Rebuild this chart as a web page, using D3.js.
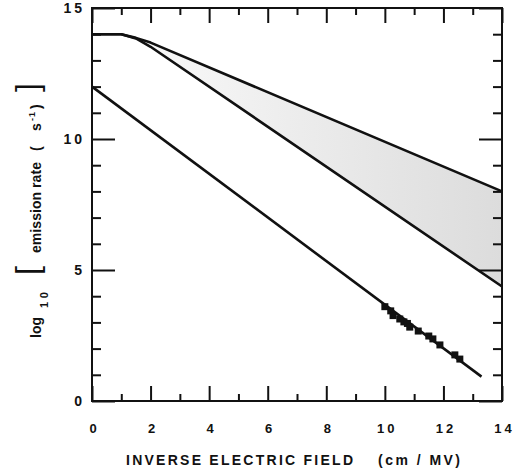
<!DOCTYPE html>
<html>
<head>
<meta charset="utf-8">
<script src="https://cdn.jsdelivr.net/npm/d3@7"></script>
<style>
  body { margin: 0; background: #fff; }
  svg text { font-family: "Liberation Sans", Arial, sans-serif; fill: #111; }
</style>
</head>
<body>
<svg id="chart" width="521" height="473"></svg>
<script>
// inverse field (cm/MV) for the two bounding curves of the shaded band
var bandX = [0, 1, 1.5, 2, 14];
var bandUpper = [14, 14, 13.86, 13.68, 8.0];
var bandLower = [14, 14, 13.84, 13.52, 4.37];

// lower straight line
var fitX = [0, 13.3];
var fitY = [12, 0.93];

// measured points
var ptsX = [10.0, 10.2, 10.28, 10.51, 10.65, 10.77, 10.85, 11.14, 11.5, 11.64, 11.88, 12.39, 12.56];
var ptsY = [3.6, 3.44, 3.26, 3.13, 3.02, 2.96, 2.82, 2.67, 2.48, 2.37, 2.14, 1.76, 1.6];

var xTicks = d3.range(0, 15);
var yTicks = d3.range(0, 16);

var svg = d3.select("#chart");
var x = d3.scaleLinear().domain([0, 14]).range([92, 502]);
var y = d3.scaleLinear().domain([0, 15]).range([401, 8]);

// gradient for the stippled band
var grad = svg.append("defs").append("linearGradient")
    .attr("id", "bandFill")
    .attr("gradientUnits", "userSpaceOnUse")
    .attr("x1", x(2)).attr("x2", x(14)).attr("y1", 0).attr("y2", 0);
grad.append("stop").attr("offset", "0").attr("stop-color", "#f8f8f8");
grad.append("stop").attr("offset", "1").attr("stop-color", "#dcdcdc");

var band = bandX.map(function(d, i) { return { x: d, hi: bandUpper[i], lo: bandLower[i] }; });

svg.append("path")
    .datum(band)
    .attr("fill", "url(#bandFill)")
    .attr("d", d3.area()
        .x(function(d) { return x(d.x); })
        .y0(function(d) { return y(d.lo); })
        .y1(function(d) { return y(d.hi); }));

var line = d3.line()
    .x(function(d) { return x(d[0]); })
    .y(function(d) { return y(d[1]); });

function drawLine(xs, ys) {
  svg.append("path")
      .datum(xs.map(function(d, i) { return [d, ys[i]]; }))
      .attr("fill", "none")
      .attr("stroke", "#111")
      .attr("stroke-width", 2.6)
      .attr("stroke-linejoin", "round")
      .attr("d", line);
}
drawLine(bandX, bandUpper);
drawLine(bandX, bandLower);
drawLine(fitX, fitY);

svg.selectAll("rect.pt")
    .data(ptsX.map(function(d, i) { return [d, ptsY[i]]; }))
    .enter()
    .append("rect")
    .attr("class", "pt")
    .attr("x", function(d) { return x(d[0]) - 3.5; })
    .attr("y", function(d) { return y(d[1]) - 3.5; })
    .attr("width", 7)
    .attr("height", 7)
    .attr("fill", "#111");

// axes: ticks point inward on all four sides
function styleAxis(g, isMajor, majorLen, horiz) {
  g.select(".domain").remove();
  g.selectAll(".tick line")
      .attr("stroke", "#111")
      .attr("stroke-width", 2)
      .each(function(d) {
        if (isMajor(d)) d3.select(this).attr(horiz ? "y2" : "x2", majorLen);
      });
  g.selectAll(".tick text")
      .attr("font-size", 13)
      .attr("font-weight", "bold")
      .attr("letter-spacing", "3px");
}
var evenX = function(d) { return d % 2 === 0; };
var fiveY = function(d) { return d % 5 === 0; };

svg.append("g")
    .attr("transform", "translate(0," + y(0) + ")")
    .call(d3.axisBottom(x).tickValues(xTicks).tickSizeInner(-7).tickSizeOuter(0).tickPadding(23)
        .tickFormat(function(d) { return d % 2 ? "" : d; }))
    .call(styleAxis, evenX, -15, true)
    .selectAll(".tick text").attr("dx", "2px");

svg.append("g")
    .attr("transform", "translate(0," + y(15) + ")")
    .call(d3.axisTop(x).tickValues(xTicks).tickSizeInner(-7).tickSizeOuter(0).tickFormat(""))
    .call(styleAxis, evenX, 15, true);

svg.append("g")
    .attr("transform", "translate(" + x(0) + ",0)")
    .call(d3.axisLeft(y).tickValues(yTicks).tickSizeInner(-9).tickSizeOuter(0).tickPadding(7)
        .tickFormat(function(d) { return d % 5 ? "" : d; }))
    .call(styleAxis, fiveY, 23, false)
    .selectAll(".tick text").attr("font-size", 14);

svg.append("g")
    .attr("transform", "translate(" + x(14) + ",0)")
    .call(d3.axisRight(y).tickValues(yTicks).tickSizeInner(-9).tickSizeOuter(0).tickFormat(""))
    .call(styleAxis, fiveY, -23, false);

// frame
svg.append("rect")
    .attr("x", x(0)).attr("y", y(15))
    .attr("width", x(14) - x(0)).attr("height", y(0) - y(15))
    .attr("fill", "none")
    .attr("stroke", "#111")
    .attr("stroke-width", 2);

// x title
svg.append("text")
    .attr("x", 126).attr("y", 465)
    .attr("font-size", 14).attr("font-weight", "bold")
    .attr("textLength", 227).attr("lengthAdjust", "spacing")
    .text("INVERSE ELECTRIC FIELD");
svg.append("text")
    .attr("x", 378).attr("y", 465)
    .attr("font-size", 14).attr("font-weight", "bold")
    .attr("textLength", 82).attr("lengthAdjust", "spacing")
    .text("(cm / MV)");

// y title, built from pieces (rotated, reading upward)
var yTitle = [
  { t: "log", bx: 41, by: 338, size: 14, w: "bold", len: 0 },
  { t: "10", bx: 48, by: 308, size: 11, w: "bold", len: 16 },
  { t: "[", bx: 38, by: 275, size: 32, w: "normal", len: 0 },
  { t: "emission rate", bx: 41, by: 253, size: 14, w: "bold", len: 91 },
  { t: "(", bx: 41, by: 151, size: 14, w: "bold", len: 0 },
  { t: "s", bx: 41, by: 131, size: 14, w: "bold", len: 0 },
  { t: "-1", bx: 35, by: 121, size: 9, w: "bold", len: 9 },
  { t: ")", bx: 41, by: 109, size: 14, w: "bold", len: 0 },
  { t: "]", bx: 38, by: 92, size: 32, w: "normal", len: 0 }
];
svg.selectAll("text.ytitle")
    .data(yTitle)
    .enter()
    .append("text")
    .attr("class", "ytitle")
    .attr("transform", function(d) { return "translate(" + d.bx + "," + d.by + ") rotate(-90)"; })
    .attr("font-size", function(d) { return d.size; })
    .attr("font-weight", function(d) { return d.w; })
    .attr("textLength", function(d) { return d.len || null; })
    .attr("lengthAdjust", "spacing")
    .text(function(d) { return d.t; });
</script>
</body>
</html>
